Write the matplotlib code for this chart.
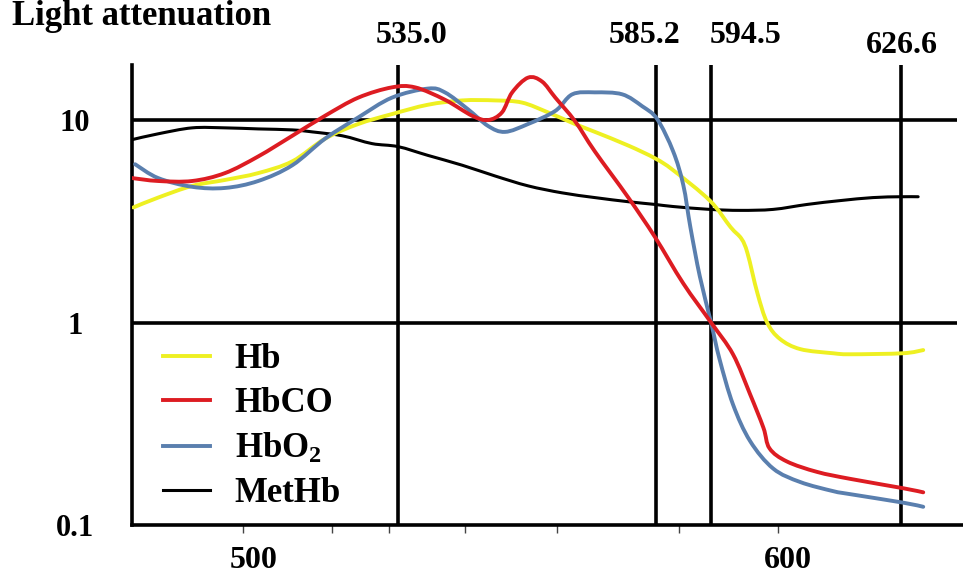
import numpy as np
import matplotlib
matplotlib.use("Agg")
import matplotlib.pyplot as plt
from matplotlib.lines import Line2D
from matplotlib.path import Path
from matplotlib.patches import PathPatch
from matplotlib.transforms import ScaledTranslation

plt.rcParams["font.family"] = ["Liberation Serif", "DejaVu Serif"]
plt.rcParams["font.weight"] = "bold"
plt.rcParams["mathtext.fontset"] = "custom"
plt.rcParams["mathtext.rm"] = "Liberation Serif:bold"
plt.rcParams["mathtext.it"] = "Liberation Serif:bold"
plt.rcParams["mathtext.bf"] = "Liberation Serif:bold"

# Absorption spectra: wavelength (nm) vs light attenuation
hb_nm = [475.2, 480.8, 488.5, 495.9, 503.4, 511.1, 518.5, 526.0, 533.6, 540.8,
         547.5, 553.9, 559.1, 564.2, 569.4, 573.3, 579.8, 585.0, 588.1, 594.3,
         596.1, 597.0, 597.5, 598.3, 599.1, 600.4, 604.8, 611.9, 615.6, 627.0, 631.4]
hb_val = [3.70, 4.14, 4.73, 5.06, 5.47, 6.25, 8.09, 9.56, 10.7, 11.9,
          12.5, 12.5, 12.2, 10.9, 9.56, 8.74, 7.48, 6.47, 5.65, 4.00,
          2.96, 2.59, 2.19, 1.40, 1.00, 0.83, 0.739, 0.705, 0.697, 0.705, 0.731]

hbco_nm = [474.9, 480.8, 488.5, 495.9, 503.4, 511.1, 518.5, 526.0, 533.6, 538.3,
           544.1, 549.4, 552.5, 555.2, 557.2, 560.3, 563.0, 565.6, 569.4, 573.3,
           579.8, 585.0, 589.8, 594.5, 596.3, 597.7, 598.8, 599.3, 601.9, 608.4,
           615.6, 627.0, 631.4]
hbco_val = [5.17, 5.00, 5.00, 5.47, 6.61, 8.36, 10.5, 12.9, 14.5, 14.5,
            12.6, 10.5, 10.0, 10.9, 13.7, 16.2, 15.5, 12.9, 9.89, 6.99,
            4.14, 2.64, 1.56, 1.00, 0.697, 0.443, 0.302, 0.239, 0.206, 0.183,
            0.169, 0.152, 0.145]

hbo2_nm = [475.6, 480.8, 488.5, 495.9, 503.4, 511.1, 518.5, 526.0, 533.6, 540.8,
           544.1, 548.6, 552.5, 555.8, 560.3, 565.6, 568.9, 573.3, 578.6, 582.5,
           585.4, 588.1, 589.8, 591.0, 592.6, 594.5, 595.2, 596.3, 597.7, 599.6,
           604.8, 611.9, 615.6, 627.0, 631.4]
hbo2_val = [6.05, 5.17, 4.68, 4.62, 5.00, 5.98, 8.09, 10.3, 12.9, 14.3,
            13.7, 11.3, 9.35, 8.74, 9.56, 11.1, 13.4, 13.7, 13.4, 11.7,
            10.1, 6.99, 4.78, 2.96, 1.69, 1.00, 0.658, 0.394, 0.260, 0.190,
            0.163, 0.147, 0.142, 0.129, 0.123]

methb_nm = [474.9, 480.8, 488.5, 495.9, 503.4, 511.1, 515.6, 522.4, 529.1, 535.0,
            540.8, 547.5, 553.9, 560.3, 566.9, 573.3, 579.8, 585.0, 588.1, 594.3,
            596.9, 599.6, 606.3, 613.4, 620.5, 626.4, 630.3]
methb_val = [8.00, 8.55, 9.15, 9.15, 9.04, 8.94, 8.74, 8.36, 7.65, 7.39,
             6.69, 5.98, 5.29, 4.73, 4.37, 4.14, 3.95, 3.83, 3.74, 3.62,
             3.58, 3.62, 3.83, 4.00, 4.14, 4.18, 4.18]

# isosbestic / reference wavelengths
marker_nm = [535.0, 585.2, 594.5, 626.6]
ref_levels = [1, 10]

x_major = [500, 600]
x_minor = [520, 533, 548, 566, 589]
y_ticks = [0.1, 1, 10]
y_labels = ["0.1", "1", "10"]

# the wavelength axis of this plot is not uniform, so use a
# piecewise-linear scale through these breakpoints
scale_nm = [440.0, 500.0, 535.0, 585.2, 594.5, 600.0, 626.6, 680.0]
scale_pos = [-22.7, 243.0, 398.0, 656.0, 711.0, 778.0, 901.0, 1148.0]


def fwd(x):
    return np.interp(x, scale_nm, scale_pos)


def inv(x):
    return np.interp(x, scale_pos, scale_nm)


def smooth_path(xs, ys):
    """Catmull-Rom curve through the points, as cubic Bezier segments.

    Control points are built in scale space (axis position, log10) and
    mapped back to data units, so the curve is smooth on screen."""
    p = np.column_stack([fwd(np.asarray(xs, float)), np.log10(ys)])
    ext = np.vstack([p[0], p, p[-1]])
    verts = [p[0]]
    codes = [Path.MOVETO]
    for i in range(len(p) - 1):
        p0, p1, p2, p3 = ext[i], ext[i + 1], ext[i + 2], ext[i + 3]
        verts += [p1 + (p2 - p0) / 6, p2 - (p3 - p1) / 6, p2]
        codes += [Path.CURVE4] * 3
    verts = np.array(verts)
    verts = np.column_stack([inv(verts[:, 0]), 10 ** verts[:, 1]])
    return Path(verts, codes)


fig = plt.figure(figsize=(9.63, 5.77), dpi=100)
ax = fig.add_axes([132 / 963, 52 / 577, 831 / 963, 460 / 577])
ax.set_xscale("function", functions=(fwd, inv))
ax.set_yscale("log")

# reference grid
ax.vlines(marker_nm, 0.1, 18.7, color="black", lw=2.6, zorder=1)
ax.hlines(ref_levels, 474.9, 638.7, color="black", lw=2.6, zorder=1)

series = [
    ("Hb", hb_nm, hb_val, "#EEF022", 2.8, 4),
    ("HbCO", hbco_nm, hbco_val, "#DD1C22", 2.8, 6),
    ("HbO$_2$", hbo2_nm, hbo2_val, "#5A7FAE", 2.8, 5),
    ("MetHb", methb_nm, methb_val, "black", 2.2, 3),
]
handles = []
for name, xs, ys, color, lw, z in series:
    ax.add_patch(PathPatch(smooth_path(xs, ys), fill=False, edgecolor=color,
                           lw=lw, zorder=z, capstyle="round", joinstyle="round"))
    handles.append(Line2D([], [], color=color, lw=lw, label=name))

ax.set_xlim(474.9, 640.0)
ax.set_ylim(0.1, 18.7)

for v, (dx, dy) in zip(marker_nm, [(10, 15.8), (-8.6, 15.8), (25.2, 15.8), (0.7, 8.6)]):
    ax.annotate(f"{v:.1f}", xy=(v, 1), xycoords=("data", "axes fraction"),
                xytext=(dx, dy), textcoords="offset points",
                ha="center", va="baseline", fontsize=23, fontweight="bold")

for side in ["top", "right"]:
    ax.spines[side].set_visible(False)
for side in ["left", "bottom"]:
    ax.spines[side].set_linewidth(2.6)

ax.set_xticks(x_major)
ax.set_xticklabels([str(t) for t in x_major])
ax.set_xticks(x_minor, minor=True)
ax.tick_params(axis="x", which="both", direction="out", length=6, width=1.0,
               color="#444444", pad=9, labelsize=23)
shift = ScaledTranslation(0.10, 0, fig.dpi_scale_trans)
for lab in ax.get_xticklabels():
    lab.set_transform(lab.get_transform() + shift)

ax.set_yticks(y_ticks)
ax.set_yticklabels(y_labels)
ax.yaxis.set_minor_locator(plt.NullLocator())
ax.tick_params(axis="y", length=0, pad=41, labelsize=22)
for lab in ax.get_yticklabels():
    lab.set_horizontalalignment("center")

ax.legend(handles=handles, loc="upper left",
          bbox_to_anchor=(163 / 963, 1 - 343 / 577),
          bbox_transform=fig.transFigure, frameon=False, fontsize=25,
          handlelength=1.36, handletextpad=0.7, labelspacing=0.33,
          borderpad=0, borderaxespad=0)

fig.text(12 / 963, 1 - 25 / 577, "Light attenuation", fontsize=25,
         fontweight="bold", va="baseline", ha="left")

fig.savefig("out.png", dpi=100)
